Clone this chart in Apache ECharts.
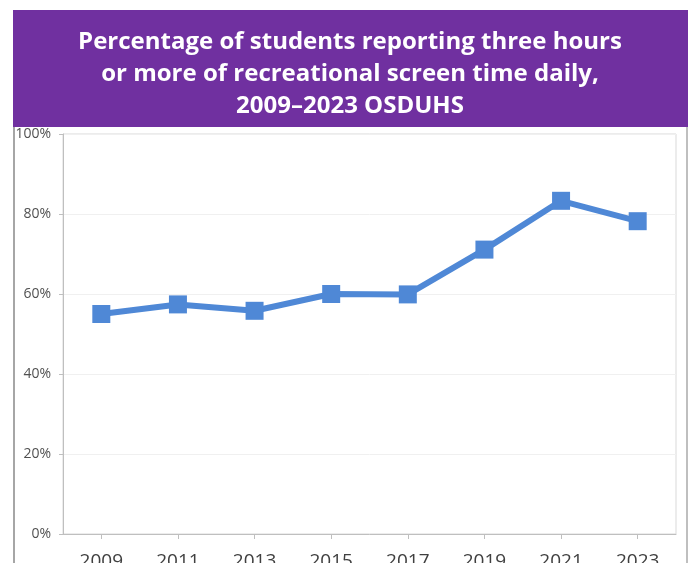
<!DOCTYPE html>
<html>
<head>
<meta charset="utf-8">
<script src="https://cdn.jsdelivr.net/npm/echarts@6/dist/echarts.min.js"></script>
<style>
  html, body { margin: 0; padding: 0; background: #ffffff; }
  #chart { width: 691px; height: 563px; }
</style>
</head>
<body>
<div id="chart"></div>
<script>
// Survey years and share of students with 3+ hours of recreational screen time
const years = ['2009', '2011', '2013', '2015', '2017', '2019', '2021', '2023'];
const screenTimePct = [55.0, 57.4, 55.8, 60.0, 59.9, 71.1, 83.3, 78.2];
const yTicks = [0, 20, 40, 60, 80, 100];

const titleText = 'Percentage of students reporting three hours\nor more of recreational screen time daily,\n2009\u20132023 OSDUHS';

const chart = echarts.init(document.getElementById('chart'), null, { renderer: 'canvas' });

chart.setOption({
  backgroundColor: '#ffffff',
  animation: false,
  graphic: [
    // purple banner behind the title
    { type: 'rect', z: 0, shape: { x: 13, y: 10, width: 675, height: 117 },
      style: { fill: '#7030A0' } },
    // banner title, centred
    { type: 'text', z: 1, x: 350, y: 26,
      style: {
        text: titleText,
        fill: '#ffffff',
        font: 'bold 24px "Open Sans"',
        lineHeight: 32,
        align: 'center',
        verticalAlign: 'top'
      } },
    // outer frame sides
    { type: 'line', z: 0, shape: { x1: 14, y1: 127, x2: 14, y2: 563 },
      style: { stroke: '#A6A6A6', lineWidth: 2 } },
    { type: 'line', z: 0, shape: { x1: 687, y1: 127, x2: 687, y2: 563 },
      style: { stroke: '#BFBFBF', lineWidth: 2 } }
  ],
  grid: {
    left: 63,
    right: 15,
    top: 134,
    bottom: 29,
    show: true,
    borderColor: '#D9D9D9',
    borderWidth: 1,
    containLabel: false,
    outerBoundsMode: 'none'
  },
  xAxis: {
    type: 'category',
    data: years,
    boundaryGap: true,
    axisLine: { lineStyle: { color: '#BFBFBF', width: 1 } },
    axisTick: { show: true, alignWithLabel: true, length: 5, lineStyle: { color: '#BFBFBF' } },
    axisLabel: { color: '#404040', fontFamily: 'Open Sans', fontSize: 19, margin: 18 },
    splitLine: { show: false }
  },
  yAxis: {
    type: 'value',
    min: yTicks[0],
    max: yTicks[yTicks.length - 1],
    interval: 20,
    axisLine: { show: true, lineStyle: { color: '#BFBFBF', width: 1 } },
    axisTick: { show: true, length: 4, lineStyle: { color: '#BFBFBF' } },
    axisLabel: {
      color: '#505050',
      fontFamily: 'Open Sans',
      fontSize: 14,
      margin: 12,
      formatter: v => v + '%'
    },
    splitLine: { show: true, lineStyle: { color: '#F0F0F0', width: 1 } }
  },
  series: [{
    type: 'line',
    data: screenTimePct,
    symbol: 'rect',
    symbolSize: 18,
    lineStyle: { color: '#4F88D6', width: 6 },
    itemStyle: { color: '#4F88D6' },
    z: 5
  }]
});
</script>
</body>
</html>
